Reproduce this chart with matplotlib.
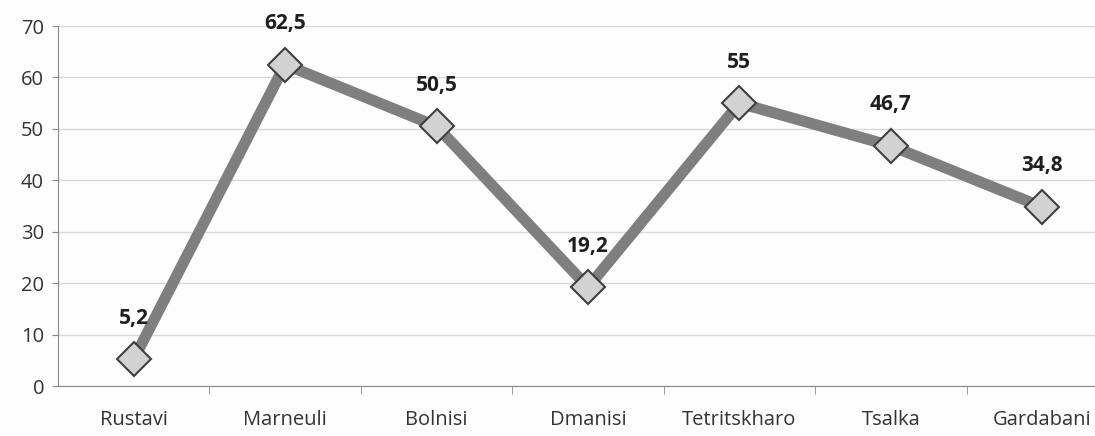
import matplotlib.pyplot as plt
import numpy as np

regions = ['Rustavi', 'Marneuli', 'Bolnisi', 'Dmanisi', 'Tetritskharo', 'Tsalka', 'Gardabani']
values = [5.2, 62.5, 50.5, 19.2, 55, 46.7, 34.8]
value_labels = ['5,2', '62,5', '50,5', '19,2', '55', '46,7', '34,8']

plt.rcParams['font.family'] = ['Open Sans', 'DejaVu Sans']

fig = plt.figure(figsize=(10.95, 4.36), dpi=100)
fig.patch.set_facecolor('#fdfdfd')
# axes run past the right edge, as in the cropped original
ax = fig.add_axes([58 / 1095, 1 - 386 / 436, 1060 / 1095, 360 / 436])
ax.set_facecolor('#fdfdfd')

x = np.arange(len(regions))
ax.plot(x, values, '-', color='#7f7f7f', linewidth=8, solid_capstyle='butt', zorder=2)
ax.plot(x, values, 'D', markersize=17, markerfacecolor='#d2d2d2',
        markeredgecolor='#3f3f3f', markeredgewidth=1.5, zorder=3)

for xi, v, lab in zip(x, values, value_labels):
    ax.annotate(lab, (xi, v), xytext=(0, 22), textcoords='offset points',
                ha='center', va='bottom', fontsize=15, fontweight='bold', color='#1e1e1e')

ax.set_xlim(-0.5, len(regions) - 0.5)
ax.set_ylim(0, 70)
ax.set_yticks(np.arange(0, 71, 10))
ax.yaxis.grid(True, color='#d9d9d9', linewidth=1)
ax.set_axisbelow(True)

ax.set_xticks(x)
ax.set_xticklabels(regions)
ax.set_xticks(np.arange(0.5, len(regions) - 0.5, 1), minor=True)
ax.tick_params(axis='x', which='major', length=0, pad=17, labelsize=14.5, labelcolor='#333333')
ax.tick_params(axis='x', which='minor', length=6, color='#888888', direction='out')
ax.tick_params(axis='y', length=4, color='#888888', labelsize=14.5, labelcolor='#333333', pad=6)

for side in ['top', 'right']:
    ax.spines[side].set_visible(False)
ax.spines['left'].set_color('#888888')
ax.spines['bottom'].set_color('#888888')

fig.savefig('out.png', dpi=100, facecolor=fig.get_facecolor())
